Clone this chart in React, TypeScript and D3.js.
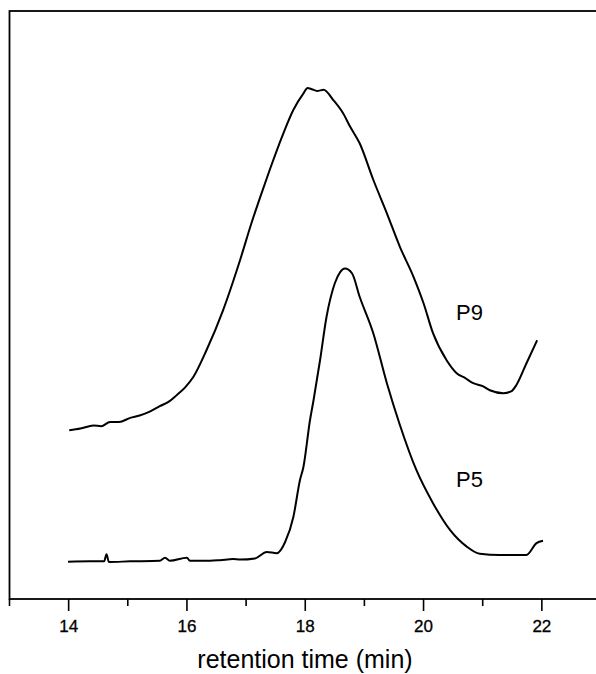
import React from "react";
import * as d3 from "d3";

const p9Time = [14.01, 14.2, 14.42, 14.55, 14.7, 14.85, 15.04, 15.2, 15.38, 15.54, 15.7, 15.83, 15.97, 16.11, 16.33, 16.61, 16.9, 17.09, 17.24, 17.4, 17.63, 17.8, 17.97, 18.04, 18.11, 18.2, 18.31, 18.47, 18.64, 18.76, 18.92, 19.15, 19.38, 19.6, 19.83, 20.0, 20.16, 20.39, 20.56, 20.7, 20.84, 21.0, 21.12, 21.35, 21.48, 21.57, 21.74, 21.92];
const p9Signal = [28.7, 29.0, 29.5, 29.4, 30.1, 30.1, 30.8, 31.2, 31.9, 32.8, 33.6, 34.7, 36.0, 37.8, 42.3, 49.1, 57.7, 63.9, 68.4, 73.0, 79.2, 83.2, 86.0, 86.9, 86.7, 86.4, 86.6, 84.9, 82.6, 80.3, 77.5, 71.3, 65.6, 59.9, 54.8, 50.3, 45.2, 40.6, 38.4, 37.6, 36.7, 36.2, 35.5, 35.0, 35.3, 36.4, 40.1, 44.0];

const p5Time = [13.99, 14.36, 14.6, 14.64, 14.68, 15.04, 15.54, 15.63, 15.71, 16.0, 16.05, 16.39, 16.56, 16.78, 16.9, 17.15, 17.35, 17.52, 17.66, 17.8, 17.91, 17.97, 18.08, 18.14, 18.25, 18.36, 18.5, 18.59, 18.67, 18.79, 18.92, 19.15, 19.38, 19.6, 19.88, 20.16, 20.45, 20.73, 20.95, 21.29, 21.74, 21.91, 22.02];
const p5Signal = [6.34, 6.4, 6.4, 7.6, 6.3, 6.4, 6.5, 7.0, 6.5, 7.0, 6.5, 6.5, 6.6, 6.8, 6.7, 6.9, 8.0, 7.8, 9.7, 14.0, 20.2, 22.5, 30.4, 33.8, 40.6, 48.0, 53.7, 55.6, 56.2, 55.4, 51.4, 45.2, 36.7, 29.6, 21.9, 16.3, 11.7, 8.9, 7.7, 7.5, 7.5, 9.5, 9.9];

const tickValues = [13, 14, 15, 16, 17, 18, 19, 20, 21, 22, 23];
const majorTicks = [14, 16, 18, 20, 22];
const xTitle = "retention time (min)";
const seriesLabels = [
  { name: "P9", t: 20.55, v: 47.5 },
  { name: "P5", t: 20.55, v: 19.0 },
];

const W = 596;
const H = 674;
const FONT = "'Liberation Sans', Arial, Helvetica, sans-serif";

export default function App() {
  const x = d3.scaleLinear().domain([13, 23]).range([9.5, 601]);
  const y = d3.scaleLinear().domain([0, 100]).range([599, 11]);
  const line = d3
    .line<[number, number]>()
    .x((d) => x(d[0]))
    .y((d) => y(d[1]))
    .curve(d3.curveMonotoneX);
  const p9 = p9Time.map((t, i) => [t, p9Signal[i]] as [number, number]);
  const p5 = p5Time.map((t, i) => [t, p5Signal[i]] as [number, number]);
  const x0 = x(13);
  const x1 = x(23);
  const yb = y(0);
  const yt = y(100);
  return (
    <svg
      width={W}
      height={H}
      style={{ position: "absolute", left: 0, top: 0, background: "#fff" }}
      fontFamily={FONT}
    >
      <rect x={0} y={0} width={W} height={H} fill="#fff" />
      <rect
        x={x0}
        y={yt}
        width={x1 - x0}
        height={yb - yt}
        fill="none"
        stroke="#000"
        strokeWidth={1.8}
      />
      {tickValues.map((t) => {
        const major = majorTicks.includes(t);
        return (
          <g key={t} transform={`translate(${x(t)},${yb})`}>
            <line y1={0} y2={major ? 12 : 7} stroke="#000" strokeWidth={1.6} />
            {major && (
              <text y={33} textAnchor="middle" fontSize={17} fill="#000" stroke="#000" strokeWidth={0.3}>
                {t}
              </text>
            )}
          </g>
        );
      })}
      <text x={305} y={668} textAnchor="middle" fontSize={25} fill="#000">
        {xTitle}
      </text>
      <path d={line(p9) || ""} fill="none" stroke="#000" strokeWidth={2} strokeLinejoin="round" />
      <path d={line(p5) || ""} fill="none" stroke="#000" strokeWidth={2} strokeLinejoin="round" />
      {seriesLabels.map((s) => (
        <text key={s.name} x={x(s.t)} y={y(s.v)} fontSize={22} fill="#000">
          {s.name}
        </text>
      ))}
    </svg>
  );
}
